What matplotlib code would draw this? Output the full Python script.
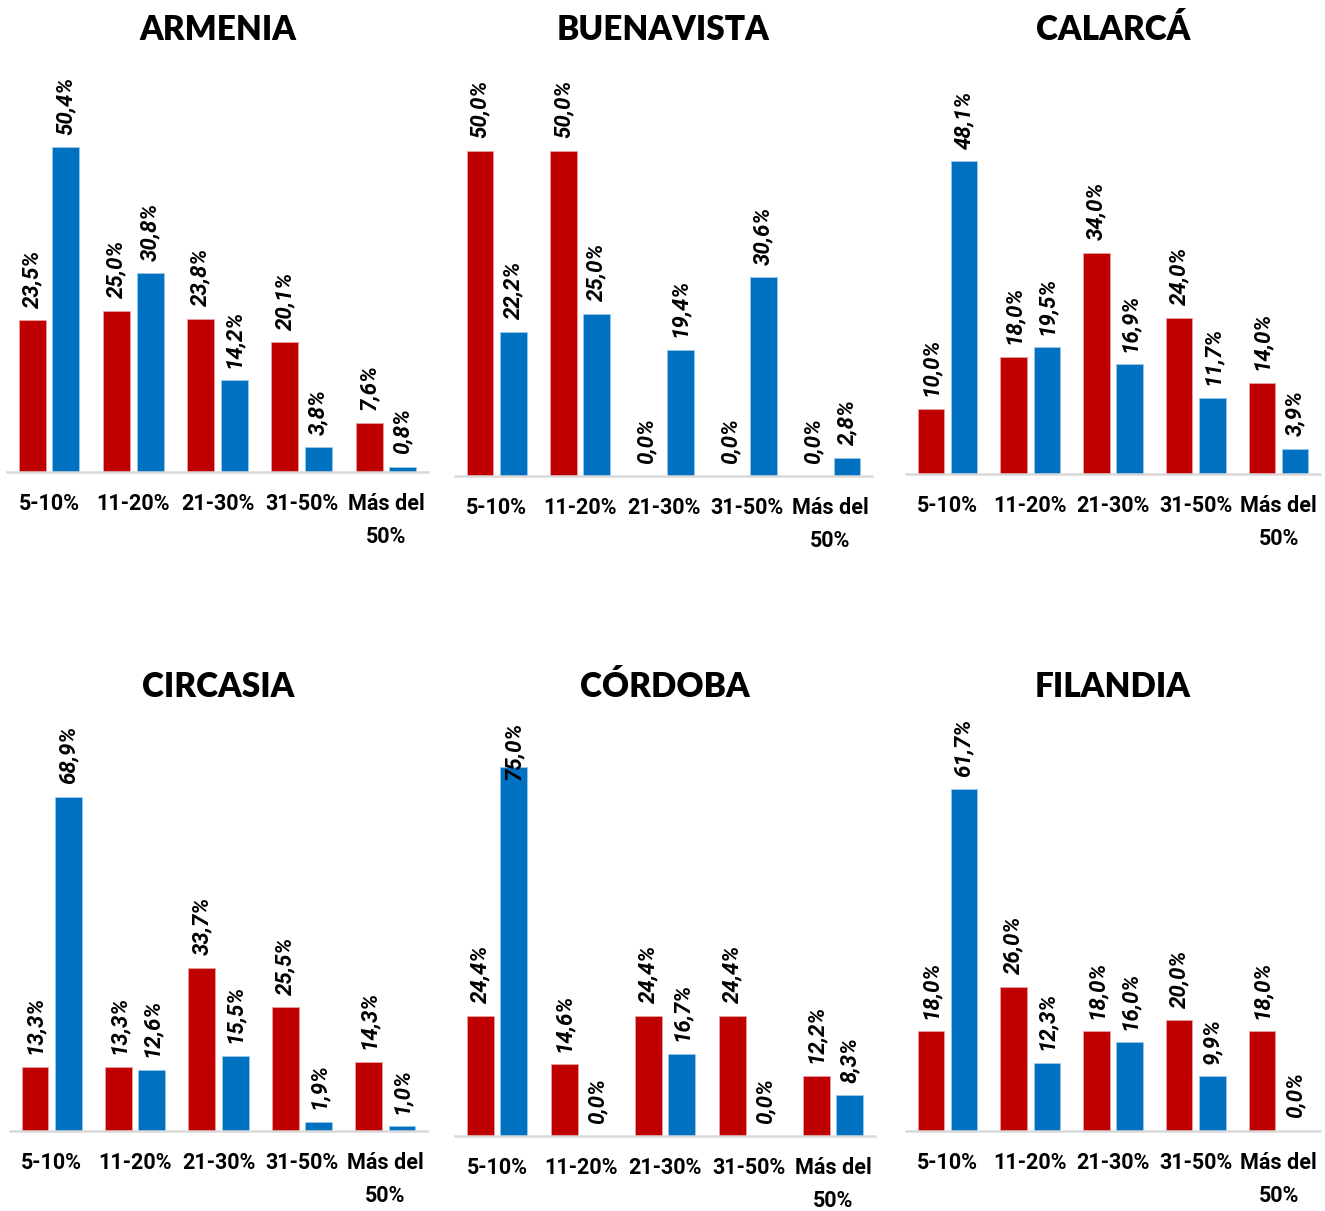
import numpy as np
import matplotlib
matplotlib.use("Agg")
import matplotlib.pyplot as plt

# datos (porcentajes)
categorias = ["5-10%", "11-20%", "21-30%", "31-50%", "Más del\n50%"]
municipios = ["ARMENIA", "BUENAVISTA", "CALARCÁ", "CIRCASIA", "CÓRDOBA", "FILANDIA"]

armenia_rojo = [23.5, 25.0, 23.8, 20.1, 7.6]
armenia_azul = [50.4, 30.8, 14.2, 3.8, 0.8]
buenavista_rojo = [50.0, 50.0, 0.0, 0.0, 0.0]
buenavista_azul = [22.2, 25.0, 19.4, 30.6, 2.8]
calarca_rojo = [10.0, 18.0, 34.0, 24.0, 14.0]
calarca_azul = [48.1, 19.5, 16.9, 11.7, 3.9]
circasia_rojo = [13.3, 13.3, 33.7, 25.5, 14.3]
circasia_azul = [68.9, 12.6, 15.5, 1.9, 1.0]
cordoba_rojo = [24.4, 14.6, 24.4, 24.4, 12.2]
cordoba_azul = [75.0, 0.0, 16.7, 0.0, 8.3]
filandia_rojo = [18.0, 26.0, 18.0, 20.0, 18.0]
filandia_azul = [61.7, 12.3, 16.0, 9.9, 0.0]

rojos = [armenia_rojo, buenavista_rojo, calarca_rojo, circasia_rojo, cordoba_rojo, filandia_rojo]
azules = [armenia_azul, buenavista_azul, calarca_azul, circasia_azul, cordoba_azul, filandia_azul]

# posicion de cada panel en pixeles: (izq, der, linea del eje, escala px por %, tope, y del titulo)
W, H = 1325, 1211
paneles = [(7, 428, 472, 6.448, 55, 30), (455, 872, 476, 6.5, 55, 30),
           (906, 1320, 474, 6.507, 55, 30), (10, 427, 1131, 4.848, 700, 687),
           (455, 875, 1136, 4.92, 722, 687), (906, 1320, 1131, 5.54, 700, 687)]

ROJO = "#C00000"
AZUL = "#0070C0"
fuente = ["Roboto", "DejaVu Sans"]
fuente_tit = ["Lato", "DejaVu Sans"]

fig = plt.figure(figsize=(W / 100, H / 100), dpi=100)
fig.patch.set_facecolor("white")

x = np.arange(len(categorias))
ancho = 0.32
for i in range(6):
    izq, der, eje, escala, tope, ytit = paneles[i]
    ymax = (eje - tope) / escala
    ax = fig.add_axes([izq / W, (H - eje) / H, (der - izq) / W, (eje - tope) / H])
    ax.set_xlim(-0.5, 4.5)
    ax.set_ylim(0, ymax)
    ax.bar(x - 0.2, rojos[i], ancho, color=ROJO, edgecolor="#E8A0A0", linewidth=0.6)
    ax.bar(x + 0.2, azules[i], ancho, color=AZUL, edgecolor="#9CC8EA", linewidth=0.6)

    fig.canvas.draw()
    r = fig.canvas.get_renderer()
    ax_top = ax.get_window_extent(r).y1
    for serie, dx in ((rojos[i], -0.2), (azules[i], 0.2)):
        for xi, v in zip(x, serie):
            t = ax.annotate(f"{v:.1f}%".replace(".", ","), (xi + dx, v),
                            xytext=(0, 9), textcoords="offset points",
                            rotation=90, ha="center", va="bottom",
                            fontsize=16, fontweight="bold", fontstyle="italic",
                            family=fuente, annotation_clip=False)
            bb = t.get_window_extent(r)
            if bb.y1 > ax_top + 2:
                # como Excel: la etiqueta se mete dentro del area
                t.xy = (xi + dx, ymax)
                t.xyann = (0, 0)
                t.set_va("top")

    for s in ["top", "left", "right"]:
        ax.spines[s].set_visible(False)
    ax.spines["bottom"].set_color("#D9D9D9")
    ax.spines["bottom"].set_linewidth(1.8)
    ax.set_yticks([])
    ax.set_xticks(x)
    ax.set_xticklabels(categorias, fontsize=15.5, fontweight="bold", family=fuente,
                       linespacing=1.68)
    ax.tick_params(axis="x", length=0, pad=15)

    fig.text((izq + der) / 2 / W, 1 - ytit / H, municipios[i], ha="center", va="center",
             fontsize=24, fontweight="heavy", family=fuente_tit)

fig.savefig("out.png", dpi=100)
